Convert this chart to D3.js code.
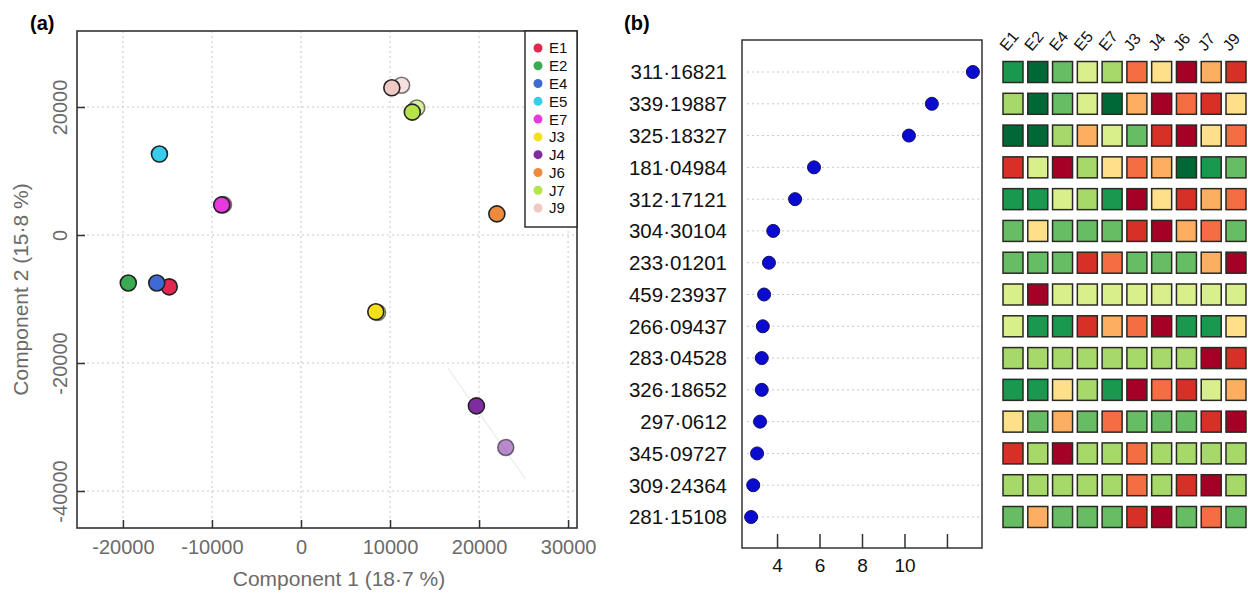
<!DOCTYPE html>
<html>
<meta charset='utf-8'>
<style>
  body{ margin:0; background:#fff; }
  svg{ display:block; font-family:'Liberation Sans', Arial, Helvetica, sans-serif; }
  .grid line{ stroke:#c8c8c8; stroke-dasharray:2,3; }
  .ax text{ fill:#6b6b6b; font-size:20px; font-family:'Liberation Sans', Arial, sans-serif; }
</style>
<body>
<svg width='1248' height='593'></svg>
<script src='https://d3js.org/d3.v7.min.js'></script>
<script>
// ---- panel (a): PCA scores ----
const groups = ['E1','E2','E4','E5','E7','J3','J4','J6','J7','J9']
const groupColors = ['#e2284f','#3aab52','#3f6ad6','#38cdec','#e838de','#f3df1c','#7f2ca2','#ef8a3c','#b6e24a','#f1c9c4']
const pcaGroup = ['E1','E2','E4','E5','E7','E7','J3','J3','J4','J4','J6','J7','J7','J9','J9']
const pcaRep   = [1,1,1,1,2,1,2,1,1,2,1,2,1,2,1]
const pcaX = [-14800,-19400,-16200,-15900,-8700,-8900,8600,8400,19700,23000,22000,13000,12500,11300,10200]
const pcaY = [-8100,-7500,-7500,12650,4750,4700,-12100,-12000,-26700,-33200,3300,19850,19200,23400,23000]
const xTicksA = [-20000,-10000,0,10000,20000,30000]
const yTicksA = [-40000,-20000,0,20000]
const trendX = [16500, 25200]
const trendY = [-20800, -38100]

// ---- panel (b): importance + heatmap ----
const features = ['311·16821','339·19887','325·18327','181·04984','312·17121','304·30104','233·01201',
  '459·23937','266·09437','283·04528','326·18652','297·0612','345·09727','309·24364','281·15108']
const importance = [13.22,11.29,10.21,5.74,4.85,3.82,3.62,3.39,3.33,3.28,3.28,3.2,3.06,2.88,2.78]
const xTicksB = [4,6,8,10,12]
const xTickLabelsB = ['4','6','8','10','']
// colour level 1 (low, red) .. 10 (high, green), one row per feature, columns as groups
const heatLevels = [
  [9,10,8,6,7,3,5,1,4,2],
  [7,10,8,6,10,4,1,3,2,5],
  [10,10,7,4,6,8,2,1,5,3],
  [2,6,1,7,5,3,4,10,9,8],
  [9,9,6,7,9,1,5,2,4,3],
  [8,5,8,8,8,2,1,4,3,8],
  [8,8,8,2,3,8,8,8,4,1],
  [6,1,6,6,6,6,6,6,6,6],
  [6,9,9,2,4,3,1,9,9,5],
  [7,7,7,7,7,7,7,7,1,2],
  [9,9,5,7,9,1,3,2,6,4],
  [5,8,4,8,3,8,8,8,2,1],
  [2,7,1,7,7,3,7,7,7,7],
  [7,7,7,7,7,3,7,2,1,7],
  [8,4,8,8,8,2,1,8,3,8]
]

const svg = d3.select('svg')

// panel labels
svg.append('text').attr('x', 30).attr('y', 30).attr('font-size', 20).attr('font-weight', 'bold').text('(a)')
svg.append('text').attr('x', 624).attr('y', 30).attr('font-size', 20).attr('font-weight', 'bold').text('(b)')

// ===== (a) =====
const aL = 77, aR = 577, aT = 31, aB = 528
const xA = d3.scaleLinear().domain([-25160, 31000]).range([aL, aR])
const yA = d3.scaleLinear().domain([-45780, 31875]).range([aB, aT])
const colorA = d3.scaleOrdinal().domain(groups).range(groupColors)

const gA = svg.append('g')
const gridA = gA.append('g').attr('class', 'grid')
gridA.selectAll('.gx').data(xTicksA).join('line')
  .attr('x1', d => xA(d)).attr('x2', d => xA(d)).attr('y1', aT).attr('y2', aB)
gridA.selectAll('.gy').data(yTicksA).join('line')
  .attr('y1', d => yA(d)).attr('y2', d => yA(d)).attr('x1', aL).attr('x2', aR)

gA.append('line')
  .attr('x1', xA(trendX[0])).attr('y1', yA(trendY[0]))
  .attr('x2', xA(trendX[1])).attr('y2', yA(trendY[1]))
  .attr('stroke', '#efefef').attr('stroke-width', 1.5)

const xAxisA = gA.append('g').attr('class', 'ax').attr('transform', `translate(0,${aB})`)
  .call(d3.axisBottom(xA).tickValues(xTicksA).tickSize(-8).tickPadding(12).tickFormat(d => String(d)))
const yAxisA = gA.append('g').attr('class', 'ax').attr('transform', `translate(${aL},0)`)
  .call(d3.axisLeft(yA).tickValues(yTicksA).tickSize(-8).tickFormat(d => String(d)))
yAxisA.selectAll('.tick text')
  .attr('x', 0).attr('dy', 0).attr('text-anchor', 'middle')
  .attr('transform', 'translate(-10,0) rotate(-90)')
gA.selectAll('.ax .domain').remove()
gA.selectAll('.ax .tick line').attr('stroke', '#333').attr('stroke-width', 1.5)

gA.append('rect').attr('x', aL).attr('y', aT).attr('width', aR - aL).attr('height', aB - aT)
  .attr('fill', 'none').attr('stroke', '#333').attr('stroke-width', 1.6)

const pts = pcaX.map((x, i) => ({ x, y: pcaY[i], g: pcaGroup[i], rep: pcaRep[i] }))
  .sort((a, b) => b.rep - a.rep)
gA.append('g').selectAll('circle').data(pts).join('circle')
  .attr('cx', d => xA(d.x)).attr('cy', d => yA(d.y)).attr('r', 8)
  .attr('fill', d => colorA(d.g)).attr('fill-opacity', d => d.rep === 2 ? 0.55 : 1)
  .attr('stroke', '#222').attr('stroke-opacity', d => d.rep === 2 ? 0.6 : 1).attr('stroke-width', 1.6)

gA.append('text').attr('x', (aL + aR) / 2 + 12).attr('y', 586)
  .attr('text-anchor', 'middle').attr('fill', '#6b6b6b').attr('font-size', 21).text('Component 1 (18·7 %)')
gA.append('text').attr('transform', `translate(28,${(aT + aB) / 2 + 10}) rotate(-90)`)
  .attr('text-anchor', 'middle').attr('fill', '#6b6b6b').attr('font-size', 21).text('Component 2 (15·8 %)')

// legend
const lg = gA.append('g')
lg.append('rect').attr('x', 525).attr('y', aT).attr('width', aR - 525).attr('height', 196)
  .attr('fill', '#fff').attr('stroke', '#222').attr('stroke-width', 1.4)
const legY = d3.scalePoint().domain(groups).range([48, 208])
lg.selectAll('circle').data(groups).join('circle')
  .attr('cx', 538).attr('cy', d => legY(d)).attr('r', 4.5).attr('fill', d => colorA(d))
lg.selectAll('text').data(groups).join('text')
  .attr('x', 549).attr('y', d => legY(d)).attr('dy', '0.36em').attr('font-size', 15).attr('fill', '#111').text(d => d)

// ===== (b) dot plot =====
const bL = 742, bR = 982, bT = 40, bB = 548
const xB = d3.scaleLinear().domain([2.35, 13.65]).range([bL, bR])
const yB = d3.scalePoint().domain(features).range([72, 517])
const gB = svg.append('g')
gB.append('g').attr('class', 'grid').selectAll('line').data(features).join('line')
  .attr('x1', bL + 5).attr('x2', bR - 2).attr('y1', d => yB(d)).attr('y2', d => yB(d))
gB.append('rect').attr('x', bL).attr('y', bT).attr('width', bR - bL).attr('height', bB - bT)
  .attr('fill', 'none').attr('stroke', '#333').attr('stroke-width', 1.5)
const xAxisB = gB.append('g').attr('transform', `translate(0,${bB})`)
  .call(d3.axisBottom(xB).tickValues(xTicksB).tickSize(-14).tickPadding(11).tickFormat((d, i) => xTickLabelsB[i]))
xAxisB.select('.domain').remove()
xAxisB.selectAll('line').attr('stroke', '#333').attr('stroke-width', 1.5)
xAxisB.selectAll('text').attr('font-size', 19).attr('fill', '#111').attr('font-family', "'Liberation Sans', Arial, sans-serif")
gB.selectAll('.lab').data(features).join('text')
  .attr('x', 727).attr('y', d => yB(d)).attr('dy', '0.36em').attr('text-anchor', 'end')
  .attr('font-size', 20.5).attr('fill', '#111').text(d => d)
gB.selectAll('.dot').data(features).join('circle')
  .attr('cx', (d, i) => xB(importance[i])).attr('cy', d => yB(d)).attr('r', 6.5)
  .attr('fill', '#0a0ad0').attr('stroke', '#101060').attr('stroke-width', 1)

// ===== (b) heatmap =====
const xH = d3.scalePoint().domain(groups).range([1013, 1236])
const colorH = d3.scaleOrdinal().domain(d3.range(1, 11)).range(d3.schemeRdYlGn[10])
const cellW = 20, cellH = 21
const gH = svg.append('g')
features.forEach((f, r) => {
  gH.append('g').selectAll('rect').data(heatLevels[r]).join('rect')
    .attr('x', (d, c) => xH(groups[c]) - cellW / 2).attr('y', yB(f) - cellH / 2)
    .attr('width', cellW).attr('height', cellH)
    .attr('fill', d => colorH(d)).attr('stroke', '#2a2a22').attr('stroke-width', 1.5)
})
gH.selectAll('.col').data(groups).join('text')
  .attr('transform', d => `translate(${xH(d) - 6},52) rotate(-50)`)
  .attr('font-size', 16).attr('fill', '#111').text(d => d)
</script>
</body>
</html>
